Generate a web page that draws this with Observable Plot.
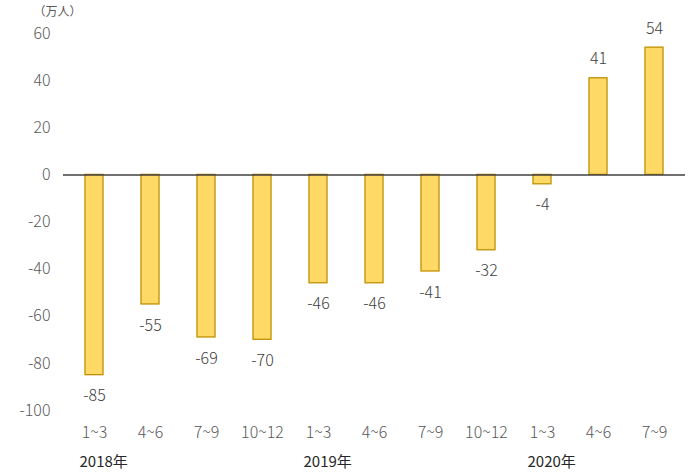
<!DOCTYPE html>
<html>
<head>
<meta charset="utf-8">
<script src="https://cdn.jsdelivr.net/npm/d3@7"></script>
<script src="https://cdn.jsdelivr.net/npm/@observablehq/plot@0.6"></script>
<style>
  body { margin: 0; background: #fff; }
  svg { font-family: "Noto Sans CJK JP", "Noto Sans", sans-serif; }
</style>
</head>
<body>
<div id="chart"></div>
<script>
const quarters = ["1~3","4~6","7~9","10~12","1~3","4~6","7~9","10~12","1~3","4~6","7~9"];
const yearOf = [2018,2018,2018,2018,2019,2019,2019,2019,2020,2020,2020];
const values = [-85,-55,-69,-70,-46,-46,-41,-32,-4,41,54];
const yearLabels = ["2018年","2019年","2020年"];
const yearStartIdx = [0,4,8];
const yTicks = [60,40,20,0,-20,-40,-60,-80,-100];
const unitLabel = "（万人）";

const data = quarters.map((q,i)=>({key: yearOf[i]+" "+q, q, v: values[i]}));
const keys = data.map(d=>d.key);
const yearData = yearLabels.map((l,i)=>({key: keys[yearStartIdx[i]], label: l}));

const plot = Plot.plot({
  width: 694,
  height: 472,
  marginLeft: 63,
  marginRight: 9,
  marginTop: 33,
  marginBottom: 62,
  style: {fontFamily: '"Noto Sans CJK JP", "Noto Sans", sans-serif', fontSize: "16px"},
  x: {domain: keys, paddingInner: 0.68, paddingOuter: 0.34, axis: null},
  y: {domain: [-100, 60], axis: null},
  marks: [
    Plot.barY(data, {x: "key", y: "v", fill: "#FFD966", stroke: "#BF9000", strokeWidth: 1.3}),
    Plot.ruleY([0], {stroke: "#404040", strokeWidth: 1.5}),
    Plot.text(yTicks, {y: d=>d, frameAnchor: "left", dx: -13, textAnchor: "end", text: d=>String(d), fill: "#595959", fontSize: 16, fontWeight: 300}),
    Plot.text(data.filter(d=>d.v<0), {x: "key", y: "v", text: d=>String(d.v), dy: 21, fill: "#404040", fontSize: 16, fontWeight: 300}),
    Plot.text(data.filter(d=>d.v>=0), {x: "key", y: "v", text: d=>String(d.v), dy: -19, fill: "#404040", fontSize: 16, fontWeight: 300}),
    Plot.text(data, {x: "key", frameAnchor: "bottom", dy: 27, text: "q", fill: "#595959", fontSize: 16, fontWeight: 300}),
    Plot.text(yearData, {x: "key", frameAnchor: "bottom", dy: 56, dx: -15, textAnchor: "start", text: "label", fill: "#262626", fontSize: 15}),
    Plot.text([unitLabel], {frameAnchor: "top-left", dx: -30, dy: -26, text: d=>d, fill: "#595959", fontSize: 12})
  ]
});
document.getElementById("chart").appendChild(plot);
</script>
</body>
</html>
